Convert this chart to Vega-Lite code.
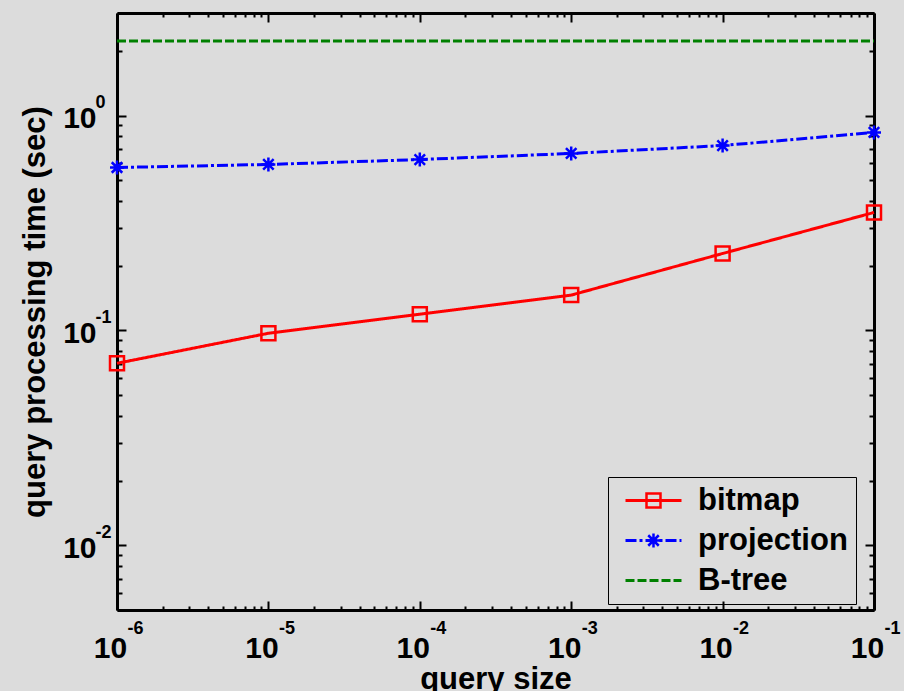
{
  "$schema": "https://vega.github.io/schema/vega-lite/v6.json",
  "width": 757,
  "height": 597,
  "autosize": {"type": "none"},
  "padding": {"left": 117, "top": 13, "right": 30, "bottom": 81},
  "background": "#dcdcdc",
  "config": {
    "view": {"stroke": null},
    "font": "Liberation Sans",
    "axis": {"grid": false, "labelFlush": false, "labelOverlap": false, "labelBound": false, "labelColor": "black", "titleColor": "black", "labelFont": "Liberation Sans", "titleFont": "Liberation Sans", "labelFontWeight": "bold", "titleFontWeight": "bold"}
  },
  "data": {
    "values": [
      {"size": 0.000001, "time": 0.0703, "series": "bitmap"},
      {"size": 0.00001, "time": 0.097, "series": "bitmap"},
      {"size": 0.0001, "time": 0.119, "series": "bitmap"},
      {"size": 0.001, "time": 0.146, "series": "bitmap"},
      {"size": 0.01, "time": 0.228, "series": "bitmap"},
      {"size": 0.1, "time": 0.354, "series": "bitmap"},
      {"size": 0.000001, "time": 0.573, "series": "projection"},
      {"size": 0.00001, "time": 0.592, "series": "projection"},
      {"size": 0.0001, "time": 0.624, "series": "projection"},
      {"size": 0.001, "time": 0.666, "series": "projection"},
      {"size": 0.01, "time": 0.725, "series": "projection"},
      {"size": 0.1, "time": 0.834, "series": "projection"},
      {"size": 0.000001, "time": 2.22, "series": "B-tree"},
      {"size": 0.00001, "time": 2.22, "series": "B-tree"},
      {"size": 0.0001, "time": 2.22, "series": "B-tree"},
      {"size": 0.001, "time": 2.22, "series": "B-tree"},
      {"size": 0.01, "time": 2.22, "series": "B-tree"},
      {"size": 0.1, "time": 2.22, "series": "B-tree"}
    ]
  },
  "resolve": {"axis": {"x": "independent", "y": "independent"}},
  "layer": [
    {
      "mark": {"type": "line"},
      "encoding": {
        "x": {"field": "size", "type": "quantitative", "scale": {"type": "log", "domain": [0.000001, 0.1], "nice": false},
          "axis": {"orient": "bottom", "values": [0.000001, 0.00001, 0.0001, 0.001, 0.01, 0.1], "labelExpr": "'10'", "ticks": false, "domain": true, "domainColor": "black", "domainWidth": 3, "labelFontSize": 30, "labelPadding": 23, "labelOffset": -7, "labelBaseline": "top", "title": "query size", "titleFontSize": 31, "titlePadding": 1}},
        "y": {"field": "time", "type": "quantitative", "scale": {"type": "log", "domain": [0.005, 3], "nice": false},
          "axis": {"orient": "left", "values": [0.01, 0.1, 1], "labelExpr": "'10'", "ticks": false, "domain": true, "domainColor": "black", "domainWidth": 3, "labelFontSize": 30, "labelPadding": 21, "labelOffset": 3, "labelBaseline": "middle", "title": "query processing time (sec)", "titleFontSize": 31, "titlePadding": 11}},
        "color": {"field": "series", "type": "nominal", "scale": {"domain": ["bitmap", "projection", "B-tree"], "range": ["#ff0000", "#0000ff", "#008000"]},
          "legend": {"orient": "none", "legendX": 491, "legendY": 464, "title": null, "symbolType": "M-4,0L4,0", "symbolSize": 196, "symbolOffset": 22, "labelFont": "Liberation Sans", "labelFontWeight": "bold", "labelFontSize": 31, "labelColor": "black", "labelOffset": 29, "rowPadding": 8, "padding": 8, "strokeColor": "black", "labelLimit": 300}},
        "strokeDash": {"field": "series", "type": "nominal", "scale": {"domain": ["bitmap", "projection", "B-tree"], "range": [[1, 0], [11, 3, 3, 3], [9, 3]]},
          "legend": {"orient": "none", "legendX": 491, "legendY": 464, "title": null, "symbolType": "M-4,0L4,0", "symbolSize": 196, "symbolOffset": 22, "labelFont": "Liberation Sans", "labelFontWeight": "bold", "labelFontSize": 31, "labelColor": "black", "labelOffset": 29, "rowPadding": 8, "padding": 8, "strokeColor": "black", "labelLimit": 300}},
        "strokeWidth": {"field": "series", "type": "nominal", "scale": {"domain": ["bitmap", "projection", "B-tree"], "range": [3, 3, 2]},
          "legend": {"orient": "none", "legendX": 491, "legendY": 464, "title": null, "symbolType": "M-4,0L4,0", "symbolSize": 196, "symbolOffset": 22, "labelFont": "Liberation Sans", "labelFontWeight": "bold", "labelFontSize": 31, "labelColor": "black", "labelOffset": 29, "rowPadding": 8, "padding": 8, "strokeColor": "black", "labelLimit": 300}}
      }
    },
    {
      "transform": [{"filter": "datum.series != 'B-tree'"}],
      "mark": {"type": "point", "filled": false, "strokeWidth": 2.5, "opacity": 1},
      "encoding": {
        "x": {"field": "size", "type": "quantitative", "scale": {"type": "log", "domain": [0.000001, 0.1], "nice": false},
          "axis": {"orient": "top", "labels": false, "title": null, "domain": true, "domainColor": "black", "domainWidth": 3, "ticks": true, "tickColor": "black", "tickWidth": 2,
            "tickSize": {"condition": {"test": "abs(log(datum.value)/LN10 - round(log(datum.value)/LN10)) < 0.001", "value": -9}, "value": -4},
            "values": [0.000001, 0.000002, 0.000003, 0.000004, 0.000005, 0.000006, 0.000007, 0.000008, 0.000009, 0.00001, 0.00002, 0.00003, 0.00004, 0.00005, 0.00006, 0.00007, 0.00008, 0.00009, 0.0001, 0.0002, 0.0003, 0.0004, 0.0005, 0.0006, 0.0007, 0.0008, 0.0009, 0.001, 0.002, 0.003, 0.004, 0.005, 0.006, 0.007, 0.008, 0.009, 0.01, 0.02, 0.03, 0.04, 0.05, 0.06, 0.07, 0.08, 0.09, 0.1]}},
        "y": {"field": "time", "type": "quantitative", "scale": {"type": "log", "domain": [0.005, 3], "nice": false},
          "axis": {"orient": "right", "labels": false, "title": null, "domain": true, "domainColor": "black", "domainWidth": 3, "ticks": true, "tickColor": "black", "tickWidth": 2,
            "tickSize": {"condition": {"test": "abs(log(datum.value)/LN10 - round(log(datum.value)/LN10)) < 0.001", "value": -9}, "value": -5},
            "values": [0.005, 0.006, 0.007, 0.008, 0.009, 0.01, 0.02, 0.03, 0.04, 0.05, 0.06, 0.07, 0.08, 0.09, 0.1, 0.2, 0.3, 0.4, 0.5, 0.6, 0.7, 0.8, 0.9, 1, 2, 3]}},
        "shape": {"field": "series", "type": "nominal", "scale": {"domain": ["bitmap", "projection"], "range": ["square", "M-1,0L1,0M0,-1L0,1M-0.75,-0.75L0.75,0.75M-0.75,0.75L0.75,-0.75"]},
          "legend": {"orient": "none", "legendX": 491, "legendY": 464, "title": null, "symbolSize": 196, "symbolStrokeWidth": 2.5, "symbolOffset": 22, "labelFont": "Liberation Sans", "labelFontWeight": "bold", "labelFontSize": 31, "labelColor": "transparent", "labelOffset": 29, "rowPadding": 8, "padding": 8, "labelLimit": 300}},
        "stroke": {"field": "series", "type": "nominal", "scale": {"domain": ["bitmap", "projection"], "range": ["#ff0000", "#0000ff"]},
          "legend": {"orient": "none", "legendX": 491, "legendY": 464, "title": null, "symbolSize": 196, "symbolStrokeWidth": 2.5, "symbolOffset": 22, "labelFont": "Liberation Sans", "labelFontWeight": "bold", "labelFontSize": 31, "labelColor": "transparent", "labelOffset": 29, "rowPadding": 8, "padding": 8, "labelLimit": 300}},
        "size": {"value": 196}
      }
    },
    {
      "mark": {"type": "point", "opacity": 0},
      "encoding": {
        "x": {"field": "size", "type": "quantitative", "scale": {"type": "log", "domain": [0.000001, 0.1], "nice": false},
          "axis": {"orient": "bottom", "values": [0.000001, 0.00001, 0.0001, 0.001, 0.01, 0.1], "labelExpr": "'' + round(log(datum.value)/LN10)", "ticks": false, "domain": false, "labelFontSize": 18, "labelPadding": 9, "labelOffset": 18, "labelBaseline": "top", "title": null}},
        "y": {"field": "time", "type": "quantitative", "scale": {"type": "log", "domain": [0.005, 3], "nice": false},
          "axis": {"orient": "left", "values": [0.01, 0.1, 1], "labelExpr": "'' + round(log(datum.value)/LN10)", "ticks": false, "domain": false, "labelFontSize": 18, "labelPadding": 22, "labelAlign": "left", "labelOffset": -13, "labelBaseline": "middle", "title": null}}
      }
    },
    {
      "mark": {"type": "point", "opacity": 0},
      "encoding": {
        "x": {"field": "size", "type": "quantitative", "scale": {"type": "log", "domain": [0.000001, 0.1], "nice": false},
          "axis": {"orient": "bottom", "labels": false, "title": null, "domain": false, "ticks": true, "tickColor": "black", "tickWidth": 2,
            "tickSize": {"condition": {"test": "abs(log(datum.value)/LN10 - round(log(datum.value)/LN10)) < 0.001", "value": -9}, "value": -4},
            "values": [0.000001, 0.000002, 0.000003, 0.000004, 0.000005, 0.000006, 0.000007, 0.000008, 0.000009, 0.00001, 0.00002, 0.00003, 0.00004, 0.00005, 0.00006, 0.00007, 0.00008, 0.00009, 0.0001, 0.0002, 0.0003, 0.0004, 0.0005, 0.0006, 0.0007, 0.0008, 0.0009, 0.001, 0.002, 0.003, 0.004, 0.005, 0.006, 0.007, 0.008, 0.009, 0.01, 0.02, 0.03, 0.04, 0.05, 0.06, 0.07, 0.08, 0.09, 0.1]}},
        "y": {"field": "time", "type": "quantitative", "scale": {"type": "log", "domain": [0.005, 3], "nice": false},
          "axis": {"orient": "left", "labels": false, "title": null, "domain": false, "ticks": true, "tickColor": "black", "tickWidth": 2,
            "tickSize": {"condition": {"test": "abs(log(datum.value)/LN10 - round(log(datum.value)/LN10)) < 0.001", "value": -9}, "value": -5},
            "values": [0.005, 0.006, 0.007, 0.008, 0.009, 0.01, 0.02, 0.03, 0.04, 0.05, 0.06, 0.07, 0.08, 0.09, 0.1, 0.2, 0.3, 0.4, 0.5, 0.6, 0.7, 0.8, 0.9, 1, 2, 3]}}
      }
    }
  ]
}
